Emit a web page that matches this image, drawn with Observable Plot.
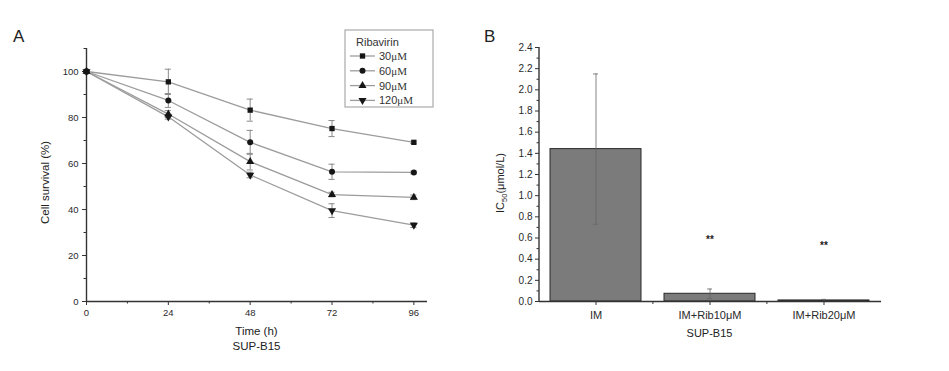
<!DOCTYPE html>
<html><head><meta charset="utf-8">
<script src="https://cdn.jsdelivr.net/npm/d3@7"></script>
<script src="https://cdn.jsdelivr.net/npm/@observablehq/plot@0.6"></script>
<style>
body{margin:0;background:#fff;font-family:"Liberation Sans",Arial,sans-serif;}
#wrap{display:flex;width:949px;height:371px;overflow:hidden;}
#wrap svg{display:block;}
</style></head><body><div id="wrap"></div>
<script>
// ---- Panel A data ----
const hours = [0, 24, 48, 72, 96];
const doses = ["30μM", "60μM", "90μM", "120μM"];
const surv30 = [100, 95.5, 83.2, 75.2, 69.2];
const err30 = [0, 5.5, 4.8, 3.5, 0.5];
const surv60 = [100, 87.4, 69.2, 56.4, 56.1];
const err60 = [0, 3.0, 5.2, 3.3, 0.6];
const surv90 = [100, 81.5, 60.8, 46.5, 45.3];
const err90 = [0, 1.5, 3.6, 1.0, 1.0];
const surv120 = [100, 80.3, 55.0, 39.5, 33.2];
const err120 = [0, 1.0, 1.2, 3.0, 1.0];
const yTicksA = [0, 20, 40, 60, 80, 100];
const yMinorA = [10, 30, 50, 70, 90, 110];
const xMinorA = [12, 36, 60, 84];

// ---- Panel B data ----
const groups = ["IM", "IM+Rib10μM", "IM+Rib20μM"];
const ic50 = [1.44, 0.073, 0.01];
const ic50Err = [0.71, 0.045, 0.01];
const sigMarks = ["", "**", "**"];
const sigY = [null, 0.58, 0.53];
const yTicksB = [0, 0.2, 0.4, 0.6, 0.8, 1.0, 1.2, 1.4, 1.6, 1.8, 2.0, 2.2, 2.4];
const yMinorB = [0.1, 0.3, 0.5, 0.7, 0.9, 1.1, 1.3, 1.5, 1.7, 1.9, 2.1, 2.3];

const FONT = '"Liberation Sans", Arial, sans-serif';
const seriesVals = [surv30, surv60, surv90, surv120];
const seriesErr = [err30, err60, err90, err120];
const rowsA = [];
doses.forEach((d, i) => hours.forEach((t, j) => rowsA.push({dose: d, t, v: seriesVals[i][j], e: seriesErr[i][j]})));
const errRows = rowsA.filter(r => r.e > 0);
const symRange = ["square", "circle", "triangle", "triangle"];
const capA = 0.9;

const A = Plot.plot({
  width: 470, height: 371,
  marginLeft: 86, marginRight: 43, marginTop: 48, marginBottom: 70,
  x: {domain: [0, 100]},
  y: {domain: [0, 110]},
  symbol: {domain: doses, range: symRange},
  style: {fontFamily: FONT, fontSize: "9.5px", color: "#2a2a2a", background: "transparent", overflow: "visible"},
  marks: [
    Plot.axisY({ticks: yTicksA, tickSize: 4, tickPadding: 4, label: null, stroke: "#333"}),
    Plot.axisY({ticks: yMinorA, tickSize: 2.5, tickFormat: () => "", label: null, stroke: "#333"}),
    Plot.axisX({ticks: hours, tickSize: 4, tickPadding: 4, label: null, stroke: "#333"}),
    Plot.axisX({ticks: xMinorA, tickSize: 2.5, tickFormat: () => "", label: null, stroke: "#333"}),
    Plot.ruleX([0], {stroke: "#333", strokeWidth: 1.4}),
    Plot.ruleY([0], {stroke: "#333", strokeWidth: 1.4}),
    Plot.ruleX(errRows, {x: "t", y1: d => d.v - d.e, y2: d => d.v + d.e, stroke: "#8a8a8a", strokeWidth: 1}),
    Plot.ruleY(errRows, {y: d => d.v + d.e, x1: d => d.t - capA, x2: d => d.t + capA, stroke: "#8a8a8a", strokeWidth: 1}),
    Plot.ruleY(errRows, {y: d => d.v - d.e, x1: d => d.t - capA, x2: d => d.t + capA, stroke: "#8a8a8a", strokeWidth: 1}),
    Plot.line(rowsA, {x: "t", y: "v", z: "dose", stroke: "#9c9c9c", strokeWidth: 1.3}),
    Plot.dot(rowsA, {x: "t", y: "v", symbol: "dose", fill: "#161616", stroke: "none", r: 3, rotate: d => d.dose === "120μM" ? 180 : 0})
  ]
});

const rowsB = groups.map((g, i) => ({g, v: ic50[i], e: ic50Err[i], s: sigMarks[i], sy: sigY[i]}));
const B = Plot.plot({
  width: 479, height: 371,
  marginLeft: 69, marginRight: 68, marginTop: 47, marginBottom: 70,
  x: {domain: groups, paddingInner: 0.2, paddingOuter: 0.1},
  y: {domain: [0, 2.4]},
  style: {fontFamily: FONT, fontSize: "10px", color: "#2a2a2a", background: "transparent", overflow: "visible"},
  marks: [
    Plot.axisY({ticks: yTicksB, tickSize: 4, tickPadding: 3, tickFormat: d3.format(".1f"), label: null, stroke: "#333"}),
    Plot.axisY({ticks: yMinorB, tickSize: 2.5, tickFormat: () => "", label: null, stroke: "#333"}),
    Plot.axisX({tickSize: 4, tickPadding: 6, label: null, stroke: "#333", fontSize: 11}),
    Plot.axisX({ticks: groups.slice(0, 2), tickSize: 3, dx: 56.9, tickFormat: () => "", label: null, stroke: "#333"}),
    Plot.barY(rowsB, {x: "g", y: "v", fill: "#7b7b7b", stroke: "#2a2a2a", strokeWidth: 1}),
    Plot.ruleX(rowsB, {x: "g", y1: d => d.v - d.e, y2: d => d.v + d.e, stroke: "#666", strokeWidth: 0.8}),
    Plot.tickY(rowsB, {x: "g", y: d => d.v + d.e, insetLeft: 43, insetRight: 43, stroke: "#666", strokeWidth: 0.8}),
    Plot.tickY(rowsB, {x: "g", y: d => d.v - d.e, insetLeft: 43, insetRight: 43, stroke: "#666", strokeWidth: 0.8}),
    Plot.ruleY([0], {stroke: "#333", strokeWidth: 1.4}),
    Plot.text(rowsB.filter(d => d.s), {x: "g", y: "sy", text: "s", fontSize: 10, fontWeight: "bold", fill: "#222"})
  ]
});

const wrap = document.getElementById("wrap");
wrap.append(A, B);

// ---- Panel A annotations ----
const sa = d3.select(A);
const xA = A.scale("x"), yA = A.scale("y");
sa.append("text").attr("x", 13).attr("y", 42).attr("text-anchor", "start").attr("font-size", 17).attr("fill", "#222").attr("font-family", FONT).text("A");
sa.append("text").attr("transform", `translate(${49},${(yA.apply(0) + yA.apply(110)) / 2 + 8}) rotate(-90)`)
  .attr("text-anchor", "middle").attr("font-size", 11.5).attr("fill", "#222").attr("font-family", FONT).text("Cell survival (%)");
const cxA = (xA.apply(0) + xA.apply(100)) / 2;
sa.append("text").attr("x", cxA).attr("y", 335).attr("text-anchor", "middle").attr("font-size", 11.5).attr("fill", "#222").attr("font-family", FONT).text("Time (h)");
sa.append("text").attr("x", cxA).attr("y", 350).attr("text-anchor", "middle").attr("font-size", 11.5).attr("fill", "#222").attr("font-family", FONT).text("SUP-B15");

// legend
const lg = sa.append("g").attr("font-family", FONT).attr("fill", "#333").attr("text-anchor", "start");
lg.append("rect").attr("x", 345).attr("y", 30).attr("width", 88).attr("height", 77).attr("fill", "#fff").attr("stroke", "#aaa").attr("stroke-width", 1.2);
lg.append("text").attr("x", 356).attr("y", 45.5).attr("font-size", 11).text("Ribavirin");
const symMap = {square: d3.symbolSquare, circle: d3.symbolCircle, triangle: d3.symbolTriangle};
doses.forEach((d, i) => {
  const cy = 56 + i * 14.8;
  lg.append("line").attr("x1", 350).attr("x2", 375).attr("y1", cy).attr("y2", cy).attr("stroke", "#9c9c9c").attr("stroke-width", 1.3);
  lg.append("path").attr("d", d3.symbol(symMap[symRange[i]], Math.PI * 9)()).attr("fill", "#161616")
    .attr("transform", `translate(362.5,${cy}) rotate(${d === "120μM" ? 180 : 0})`);
  const t = lg.append("text").attr("x", 379).attr("y", cy + 4).attr("font-size", 11);
  t.append("tspan").text(d.replace("μM", ""));
  t.append("tspan").attr("font-family", '"Liberation Serif", serif').text("μM");
});

// ---- Panel B annotations ----
const sb = d3.select(B);
const xB = B.scale("x"), yB = B.scale("y");
sb.append("line").attr("x1", 69).attr("x2", 69).attr("y1", yB.apply(0)).attr("y2", yB.apply(2.4)).attr("stroke", "#333").attr("stroke-width", 1.4);
sb.append("text").attr("x", 14).attr("y", 42).attr("text-anchor", "start").attr("font-size", 17).attr("fill", "#222").attr("font-family", FONT).text("B");
const ic = sb.append("text").attr("transform", `translate(${34},${(yB.apply(0) + yB.apply(2.4)) / 2 + 9}) rotate(-90)`)
  .attr("text-anchor", "middle").attr("font-size", 11).attr("fill", "#222").attr("font-family", FONT);
ic.append("tspan").text("IC");
ic.append("tspan").attr("font-size", 7.5).attr("dy", 3).text("50");
ic.append("tspan").attr("dy", -3).text("(μmol/L)");
const cxB = xB.apply(groups[1]) + xB.bandwidth / 2;
sb.append("text").attr("x", cxB).attr("y", 337).attr("text-anchor", "middle").attr("font-size", 11).attr("fill", "#222").attr("font-family", FONT).text("SUP-B15");
</script>
</body></html>
